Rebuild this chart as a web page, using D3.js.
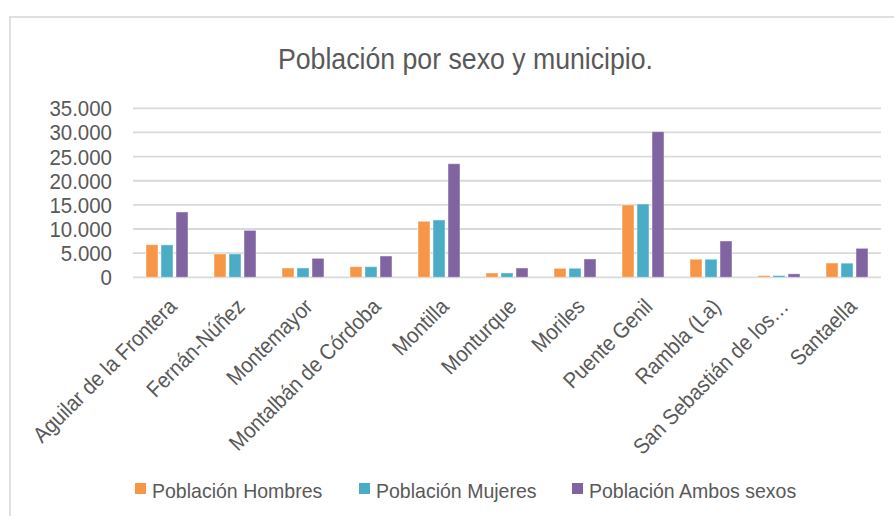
<!DOCTYPE html>
<html>
<head>
<meta charset="utf-8">
<script src="https://cdn.jsdelivr.net/npm/d3@7"></script>
<style>
  body { margin: 0; background: #fff; }
  text { font-family: "Liberation Sans", Arial, sans-serif; fill: #595959; }
</style>
</head>
<body>
<svg id="chart" width="894" height="516"></svg>
<script>
var municipios = ["Aguilar de la Frontera", "Fernán-Núñez", "Montemayor", "Montalbán de Córdoba",
  "Montilla", "Monturque", "Moriles", "Puente Genil", "Rambla (La)", "San Sebastián de los…", "Santaella"];
var hombres = [6750, 4840, 1930, 2200, 11600, 890, 1860, 14980, 3740, 350, 2960];
var mujeres = [6720, 4850, 1940, 2200, 11880, 900, 1870, 15180, 3740, 360, 2930];
var ambos = [13530, 9720, 3930, 4410, 23520, 1930, 3800, 30160, 7520, 720, 6000];
var series = ["Población Hombres", "Población Mujeres", "Población Ambos sexos"];
var colors = ["#F79646", "#4BACC6", "#8064A2"];
var yTicks = [0, 5000, 10000, 15000, 20000, 25000, 30000, 35000];

var svg = d3.select("#chart");

// marco del gráfico
svg.append("rect")
  .attr("x", 10).attr("y", 17)
  .attr("width", 900).attr("height", 520)
  .attr("fill", "none")
  .attr("stroke", "#d9d9d9")
  .attr("stroke-width", 1.6);

// título (fuente estrecha simulada)
svg.append("text")
  .attr("x", 278).attr("y", 69)
  .attr("textLength", 375)
  .attr("lengthAdjust", "spacingAndGlyphs")
  .style("font-size", "29px")
  .text("Población por sexo y municipio.");

var x = d3.scaleBand()
  .domain(municipios)
  .range([133, 881]);

var xSub = d3.scaleBand()
  .domain(series)
  .range([13, 55])
  .paddingInner(0.2);

var y = d3.scaleLinear()
  .domain([0, 35000])
  .range([277.3, 108.3]);

var fmt = function(d) { return d3.format(",")(d).replace(/,/g, "."); };

// rejilla
svg.append("g")
  .selectAll("line")
  .data(yTicks)
  .enter()
  .append("line")
  .attr("x1", 133).attr("x2", 881)
  .attr("y1", function(d) { return y(d); })
  .attr("y2", function(d) { return y(d); })
  .attr("stroke", "#d9d9d9")
  .attr("stroke-width", 1.8);

// etiquetas eje y
svg.append("g")
  .selectAll("text")
  .data(yTicks)
  .enter()
  .append("text")
  .attr("transform", function(d) { return "translate(112," + (y(d) + 8) + ") scale(0.93,1)"; })
  .attr("text-anchor", "end")
  .style("font-size", "22px")
  .text(fmt);

var data = municipios.map(function(m, i) {
  return { name: m, values: [hombres[i], mujeres[i], ambos[i]] };
});

var groups = svg.append("g")
  .selectAll("g")
  .data(data)
  .enter()
  .append("g")
  .attr("transform", function(d) { return "translate(" + x(d.name) + ",0)"; });

groups.selectAll("rect")
  .data(function(d) { return d.values.map(function(v, j) { return { s: series[j], v: v, c: colors[j] }; }); })
  .enter()
  .append("rect")
  .attr("x", function(d) { return xSub(d.s); })
  .attr("width", xSub.bandwidth())
  .attr("y", function(d) { return y(d.v); })
  .attr("height", function(d) { return y(0) - y(d.v); })
  .attr("fill", function(d) { return d.c; })
  .attr("stroke", "#fff")
  .attr("stroke-opacity", 0.45)
  .attr("stroke-width", 1);

// etiquetas del eje x
svg.append("g")
  .selectAll("text")
  .data(municipios)
  .enter()
  .append("text")
  .attr("transform", function(d) {
    return "translate(" + (x(d) + x.bandwidth() / 2 + 11) + ",308) rotate(-45) scale(0.91,1)";
  })
  .attr("text-anchor", "end")
  .style("font-size", "22px")
  .text(function(d) { return d; });

// leyenda
var legendX = [135, 359, 572];
var legend = svg.append("g")
  .selectAll("g")
  .data(series)
  .enter()
  .append("g")
  .attr("transform", function(d, i) { return "translate(" + legendX[i] + ",483)"; });

legend.append("rect")
  .attr("width", 11).attr("height", 11)
  .attr("fill", function(d, i) { return colors[i]; });

legend.append("text")
  .attr("transform", "translate(17,15) scale(0.93,1)")
  .style("font-size", "21px")
  .text(function(d) { return d; });
</script>
</body>
</html>
